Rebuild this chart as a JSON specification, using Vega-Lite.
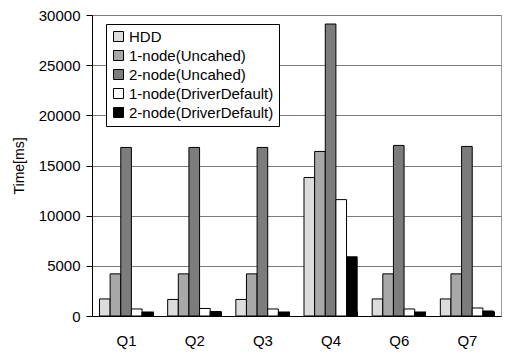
{
  "$schema": "https://vega.github.io/schema/vega-lite/v6.json",
  "width": 409,
  "height": 301,
  "autosize": {"type": "none"},
  "padding": {"left": 92, "top": 15, "right": 13, "bottom": 38},
  "background": "white",
  "config": {
    "font": "Liberation Sans",
    "view": {"stroke": "#9a9a9a", "strokeWidth": 1},
    "axis": {"labelFont": "Liberation Sans", "titleFont": "Liberation Sans", "labelColor": "black", "titleColor": "black"}
  },
  "data": {
    "values": [
      {"q": "Q1", "s": "HDD", "v": 1700},
      {"q": "Q1", "s": "1-node(Uncahed)", "v": 4200},
      {"q": "Q1", "s": "2-node(Uncahed)", "v": 16800},
      {"q": "Q1", "s": "1-node(DriverDefault)", "v": 700},
      {"q": "Q1", "s": "2-node(DriverDefault)", "v": 400},
      {"q": "Q2", "s": "HDD", "v": 1650},
      {"q": "Q2", "s": "1-node(Uncahed)", "v": 4200},
      {"q": "Q2", "s": "2-node(Uncahed)", "v": 16800},
      {"q": "Q2", "s": "1-node(DriverDefault)", "v": 750},
      {"q": "Q2", "s": "2-node(DriverDefault)", "v": 450},
      {"q": "Q3", "s": "HDD", "v": 1650},
      {"q": "Q3", "s": "1-node(Uncahed)", "v": 4200},
      {"q": "Q3", "s": "2-node(Uncahed)", "v": 16800},
      {"q": "Q3", "s": "1-node(DriverDefault)", "v": 700},
      {"q": "Q3", "s": "2-node(DriverDefault)", "v": 400},
      {"q": "Q4", "s": "HDD", "v": 13800},
      {"q": "Q4", "s": "1-node(Uncahed)", "v": 16400},
      {"q": "Q4", "s": "2-node(Uncahed)", "v": 29100},
      {"q": "Q4", "s": "1-node(DriverDefault)", "v": 11600},
      {"q": "Q4", "s": "2-node(DriverDefault)", "v": 5900},
      {"q": "Q6", "s": "HDD", "v": 1700},
      {"q": "Q6", "s": "1-node(Uncahed)", "v": 4200},
      {"q": "Q6", "s": "2-node(Uncahed)", "v": 17000},
      {"q": "Q6", "s": "1-node(DriverDefault)", "v": 700},
      {"q": "Q6", "s": "2-node(DriverDefault)", "v": 400},
      {"q": "Q7", "s": "HDD", "v": 1700},
      {"q": "Q7", "s": "1-node(Uncahed)", "v": 4200},
      {"q": "Q7", "s": "2-node(Uncahed)", "v": 16900},
      {"q": "Q7", "s": "1-node(DriverDefault)", "v": 800},
      {"q": "Q7", "s": "2-node(DriverDefault)", "v": 500}
    ]
  },
  "mark": {"type": "bar", "stroke": "black", "strokeWidth": 1},
  "encoding": {
    "x": {
      "field": "q", "type": "nominal",
      "sort": ["Q1", "Q2", "Q3", "Q4", "Q6", "Q7"],
      "scale": {"paddingInner": 0.22, "paddingOuter": 0.11},
      "axis": {"title": null, "labelAngle": 0, "labelFontSize": 15, "labelPadding": 22, "tickBand": "extent", "tickSize": -5, "tickColor": "black", "domainColor": "black", "grid": false}
    },
    "xOffset": {
      "field": "s", "type": "nominal",
      "sort": ["HDD", "1-node(Uncahed)", "2-node(Uncahed)", "1-node(DriverDefault)", "2-node(DriverDefault)"],
      "scale": {"paddingInner": 0, "paddingOuter": 0}
    },
    "y": {
      "field": "v", "type": "quantitative",
      "scale": {"domain": [0, 30000], "nice": false},
      "axis": {"title": "Time[ms]", "titleFontSize": 14, "titleFontWeight": "normal", "titlePadding": 12, "values": [0, 5000, 10000, 15000, 20000, 25000, 30000], "format": "d", "labelFontSize": 15, "labelPadding": 6, "tickSize": 6, "tickColor": "black", "domainColor": "black", "gridColor": "#7a7a7a", "grid": true}
    },
    "fill": {
      "field": "s", "type": "nominal",
      "sort": ["HDD", "1-node(Uncahed)", "2-node(Uncahed)", "1-node(DriverDefault)", "2-node(DriverDefault)"],
      "scale": {"domain": ["HDD", "1-node(Uncahed)", "2-node(Uncahed)", "1-node(DriverDefault)", "2-node(DriverDefault)"], "range": ["#dcdcdc", "#a8a8a8", "#7c7c7c", "#ffffff", "#000000"]},
      "legend": {
        "title": null, "orient": "none", "legendX": 14, "legendY": 9,
        "symbolType": "square", "symbolSize": 100, "symbolStrokeColor": "black", "symbolStrokeWidth": 1, "symbolOpacity": 1,
        "labelFontSize": 15, "labelColor": "black", "labelOffset": 3, "rowPadding": 3,
        "strokeColor": "black", "fillColor": "white", "padding": 5
      }
    }
  }
}
